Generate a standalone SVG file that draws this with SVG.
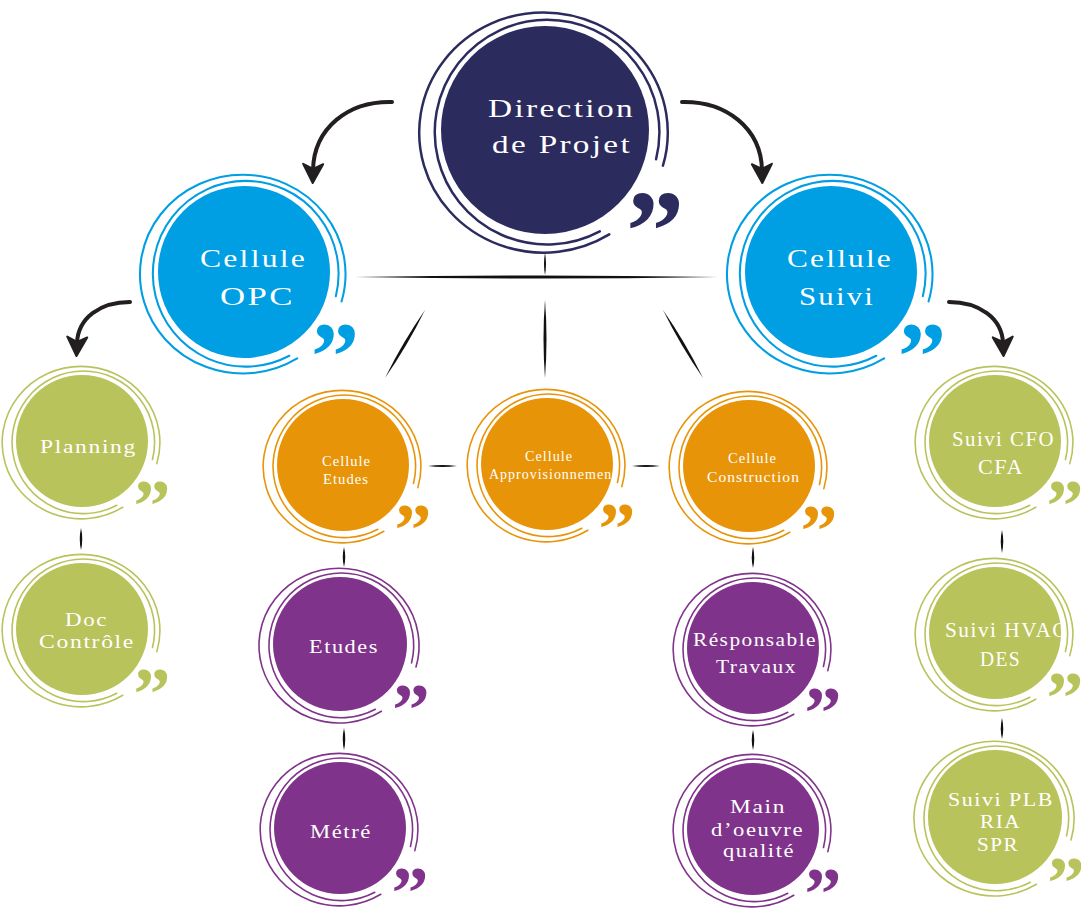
<svg xmlns="http://www.w3.org/2000/svg" xmlns:xlink="http://www.w3.org/1999/xlink" width="1081" height="909" viewBox="0 0 1081 909">
<style>
.t{font-family:"Liberation Serif","Times New Roman",serif;fill:#ffffff;letter-spacing:0.07em}
.f26{font-size:26px}.f20{font-size:20px}.f18{font-size:18px}.f14{font-size:14px}
.ring{fill:none;stroke:currentColor;stroke-width:2.4;stroke-linecap:round}
.q{font-family:"Liberation Serif","Times New Roman",serif;font-weight:bold;font-size:112px;fill:currentColor}
.navy{color:#2c2b5e}.blue{color:#009ee2}.green{color:#b9c35b}.orange{color:#e89408}.purple{color:#7f338a}
.arrow{fill:none;stroke:#231f20;stroke-width:4;stroke-linecap:round;marker-end:url(#ah)}
.lens{fill:#111111}
</style>
<defs>
<g id="bubble">
<circle r="100" fill="currentColor"/>
<path class="ring" d="M52.7 97.4 A108 108 0 1 1 106.8 28.1"/>
<path class="ring" d="M61.8 100.4 A119.5 115.5 0 1 1 113.4 34.3"/>
<text class="q" x="78" y="136">”</text>
</g>
<marker id="ah" markerUnits="userSpaceOnUse" markerWidth="40" markerHeight="40" viewBox="-20 -20 40 40" refX="0" refY="0" orient="auto">
<path d="M13,0 L-6,-10 L-1,0 L-6,10 Z" fill="#231f20" stroke="#231f20" stroke-width="2" stroke-linejoin="round"/>
</marker>
<clipPath id="clipAppro"><circle cx="547" cy="464" r="66"/></clipPath>
<clipPath id="clipHvac"><circle cx="995" cy="633" r="66"/></clipPath>
</defs>

<g id="connectors">
<path class="arrow" d="M392,102 C348,101 314,128 313,170"/>
<path class="arrow" d="M682,102 C726,101 761,128 762,170"/>
<path class="arrow" d="M130,302 C100,302 78,318 77,343"/>
<path class="arrow" d="M949,302 C979,302 1002,318 1003,343"/>
<path class="lens" d="M355,277 Q536.5,274 718,277 Q536.5,280 355,277Z"/>
<path class="lens" d="M545,253 Q547,264 545,275 Q543,264 545,253Z"/>
<path class="lens" d="M425,310 Q407.6,345.5 385,378 Q402.4,342.5 425,310Z"/>
<path class="lens" d="M545,300 Q548,339 545,378 Q542,339 545,300Z"/>
<path class="lens" d="M663,310 Q685.6,342.5 703,378 Q680.4,345.5 663,310Z"/>
<path class="lens" d="M428,466 Q442.5,464 457,466 Q442.5,468 428,466Z"/>
<path class="lens" d="M632,466 Q646,464 660,466 Q646,468 632,466Z"/>
<path class="lens" d="M344,547 Q346.5,557 344,567 Q341.5,557 344,547Z"/>
<path class="lens" d="M344,728 Q346.5,739 344,750 Q341.5,739 344,728Z"/>
<path class="lens" d="M753,547 Q755.5,557.5 753,568 Q750.5,557.5 753,547Z"/>
<path class="lens" d="M753,730 Q755.5,740 753,750 Q750.5,740 753,730Z"/>
<path class="lens" d="M81,528 Q83.5,539 81,550 Q78.5,539 81,528Z"/>
<path class="lens" d="M1002,530 Q1004.5,541.5 1002,553 Q999.5,541.5 1002,530Z"/>
<path class="lens" d="M1002,718 Q1004.5,728.5 1002,739 Q999.5,728.5 1002,718Z"/>
</g>

<g id="direction-projet">
<use href="#bubble" class="navy" transform="translate(545,130) scale(1.04)"/>
<text class="t f26" x="488" y="117" textLength="147" lengthAdjust="spacingAndGlyphs">Direction</text>
<text class="t f26" x="492" y="153" textLength="140" lengthAdjust="spacingAndGlyphs">de Projet</text>
</g>

<g id="cellule-opc">
<use href="#bubble" class="blue" transform="translate(244,272) scale(0.86)"/>
<text class="t f26" x="200" y="267" textLength="107" lengthAdjust="spacingAndGlyphs">Cellule</text>
<text class="t f26" x="220" y="305" textLength="75" lengthAdjust="spacingAndGlyphs">OPC</text>
</g>

<g id="cellule-suivi">
<use href="#bubble" class="blue" transform="translate(831,272) scale(0.86)"/>
<text class="t f26" x="787" y="267" textLength="106" lengthAdjust="spacingAndGlyphs">Cellule</text>
<text class="t f26" x="799" y="305" textLength="76" lengthAdjust="spacingAndGlyphs">Suivi</text>
</g>

<g id="planning">
<use href="#bubble" class="green" transform="translate(82,441) scale(0.66)"/>
<text class="t f18" x="40" y="453" textLength="97" lengthAdjust="spacingAndGlyphs">Planning</text>
</g>

<g id="doc-controle">
<use href="#bubble" class="green" transform="translate(82,629) scale(0.66)"/>
<text class="t f18" x="65" y="626" textLength="43" lengthAdjust="spacingAndGlyphs">Doc</text>
<text class="t f18" x="39" y="648" textLength="96" lengthAdjust="spacingAndGlyphs">Contrôle</text>
</g>

<g id="cellule-etudes">
<use href="#bubble" class="orange" transform="translate(343,465) scale(0.66)"/>
<text class="t f14" x="322" y="466" textLength="49" lengthAdjust="spacingAndGlyphs">Cellule</text>
<text class="t f14" x="323" y="484" textLength="46" lengthAdjust="spacingAndGlyphs">Etudes</text>
</g>

<g id="cellule-approvisionnement">
<use href="#bubble" class="orange" transform="translate(547,464) scale(0.66)"/>
<text class="t f14" x="525" y="461" textLength="48" lengthAdjust="spacingAndGlyphs">Cellule</text>
<text class="t f14" x="489" y="479" textLength="128" lengthAdjust="spacingAndGlyphs" clip-path="url(#clipAppro)">Approvisionnement</text>
</g>

<g id="cellule-construction">
<use href="#bubble" class="orange" transform="translate(749,466) scale(0.66)"/>
<text class="t f14" x="728" y="463" textLength="49" lengthAdjust="spacingAndGlyphs">Cellule</text>
<text class="t f14" x="707" y="482" textLength="93" lengthAdjust="spacingAndGlyphs">Construction</text>
</g>

<g id="etudes">
<use href="#bubble" class="purple" transform="translate(340,644) scale(0.67)"/>
<text class="t f18" x="309" y="653" textLength="70" lengthAdjust="spacingAndGlyphs">Etudes</text>
</g>

<g id="metre">
<use href="#bubble" class="purple" transform="translate(340,828) scale(0.66)"/>
<text class="t f18" x="310" y="838" textLength="62" lengthAdjust="spacingAndGlyphs">Métré</text>
</g>

<g id="responsable-travaux">
<use href="#bubble" class="purple" transform="translate(753,648) scale(0.66)"/>
<text class="t f18" x="693" y="646" textLength="124" lengthAdjust="spacingAndGlyphs">Résponsable</text>
<text class="t f18" x="716" y="673" textLength="81" lengthAdjust="spacingAndGlyphs">Travaux</text>
</g>

<g id="main-oeuvre">
<use href="#bubble" class="purple" transform="translate(753,829) scale(0.66)"/>
<text class="t f18" x="730" y="813" textLength="56" lengthAdjust="spacingAndGlyphs">Main</text>
<text class="t f18" x="711" y="836" textLength="93" lengthAdjust="spacingAndGlyphs">d’oeuvre</text>
<text class="t f18" x="723" y="857" textLength="72" lengthAdjust="spacingAndGlyphs">qualité</text>
</g>

<g id="suivi-cfo">
<use href="#bubble" class="green" transform="translate(995,441) scale(0.66)"/>
<text class="t f20" x="952" y="446" textLength="103" lengthAdjust="spacingAndGlyphs">Suivi CFO</text>
<text class="t f20" x="978" y="474" textLength="46" lengthAdjust="spacingAndGlyphs">CFA</text>
</g>

<g id="suivi-hvac">
<use href="#bubble" class="green" transform="translate(995,633) scale(0.66)"/>
<text class="t f20" x="945" y="637" textLength="123" lengthAdjust="spacingAndGlyphs" clip-path="url(#clipHvac)">Suivi HVAC</text>
<text class="t f20" x="980" y="666" textLength="41" lengthAdjust="spacingAndGlyphs">DES</text>
</g>

<g id="suivi-plb">
<use href="#bubble" class="green" transform="translate(995,817) scale(0.67)"/>
<text class="t f18" x="948" y="806" textLength="106" lengthAdjust="spacingAndGlyphs">Suivi PLB</text>
<text class="t f18" x="980" y="828" textLength="41" lengthAdjust="spacingAndGlyphs">RIA</text>
<text class="t f18" x="977" y="851" textLength="42" lengthAdjust="spacingAndGlyphs">SPR</text>
</g>
</svg>
